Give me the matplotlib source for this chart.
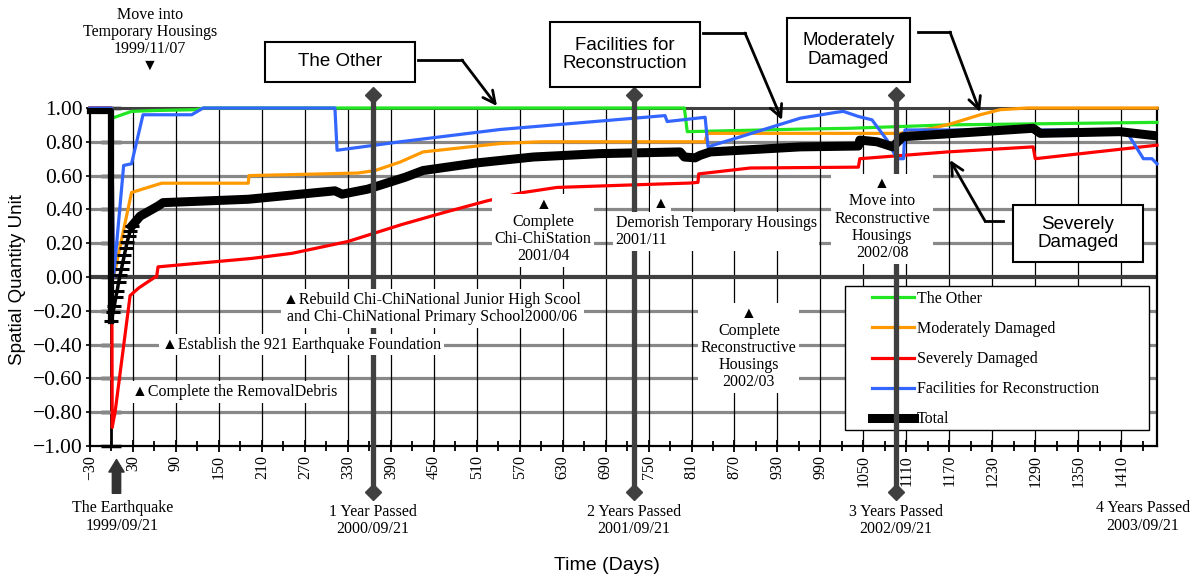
import matplotlib
matplotlib.use('Agg')
import matplotlib.pyplot as plt
from matplotlib.patches import Rectangle
from matplotlib.lines import Line2D

plt.rcParams['font.family'] = ['Liberation Serif', 'DejaVu Sans']
SANS = ['Liberation Sans', 'DejaVu Sans']

# ---- data (days since the earthquake, spatial quantity unit) ----
other_days = [-30, 0, 1, 28, 60, 117, 130, 800, 804, 962, 1031, 1167, 1460]
other_vals = [1.0, 1.0, 0.94, 0.98, 0.985, 0.99, 1.0, 1.0, 0.86, 0.875, 0.88, 0.90, 0.915]

moderate_days = [-30, 0, 3, 28, 70, 191, 192, 344, 368, 403, 435, 543, 600, 829, 832,
                 1101, 1147, 1175, 1213, 1241, 1279, 1460]
moderate_vals = [1.0, 1.0, 0.0, 0.50, 0.555, 0.555, 0.60, 0.615, 0.63, 0.68, 0.74, 0.79, 0.80, 0.80, 0.85,
                 0.85, 0.88, 0.91, 0.96, 0.99, 1.0, 1.0]

severe_days = [-30, 0, 1, 5, 26, 38, 61, 63, 65, 196, 252, 330, 405, 463, 524, 575, 622, 728,
               808, 819, 820, 892, 1043, 1045, 1167, 1287, 1290, 1460]
severe_vals = [1.0, 1.0, -0.89, -0.80, -0.11, -0.065, 0.0, 0.0, 0.06, 0.11, 0.14, 0.21, 0.31, 0.38,
               0.45, 0.50, 0.53, 0.545, 0.556, 0.56, 0.61, 0.645, 0.65, 0.70, 0.74, 0.77, 0.70, 0.78]

facility_days = [-30, 0, 3, 17, 28, 44, 112, 128, 312, 315, 403, 543, 773, 776, 829, 833, 962,
                 1013, 1022, 1043, 1062, 1083, 1097, 1106, 1108, 1416, 1441, 1453, 1460]
facility_vals = [1.0, 1.0, 0.0, 0.66, 0.67, 0.96, 0.96, 1.0, 1.0, 0.75, 0.80, 0.873, 0.955, 0.92,
                 0.945, 0.77, 0.94, 0.975, 0.98, 0.95, 0.93, 0.81, 0.70, 0.70, 0.87, 0.87, 0.70, 0.70, 0.67]

# total: drop on day 0, then the marked climb, then the slow recovery
total_drop_days = [-30, 0, 0]
total_drop_vals = [0.98, 0.98, -0.26]
total_climb_days = [0, 2, 4, 6, 8, 10, 12, 14, 16, 18, 20, 22, 24, 26, 28]
total_climb_vals = [-0.26, -0.21, -0.17, -0.12, -0.08, -0.03, 0.01, 0.05, 0.09, 0.13, 0.17,
                    0.21, 0.24, 0.27, 0.30]
total_days = [28, 40, 65, 72, 191, 312, 322, 358, 410, 435, 510, 589, 682, 794, 800, 815, 822,
              836, 962, 1043, 1045, 1069, 1091, 1105, 1287, 1297, 1408, 1460]
total_vals = [0.30, 0.36, 0.42, 0.44, 0.46, 0.51, 0.49, 0.52, 0.59, 0.63, 0.675, 0.71, 0.73, 0.74,
              0.71, 0.705, 0.72, 0.74, 0.77, 0.775, 0.81, 0.80, 0.77, 0.83, 0.88, 0.85, 0.86, 0.835]

year_days = [365, 730, 1095]
year_labels = ['1 Year Passed\n2000/09/21', '2 Years Passed\n2001/09/21', '3 Years Passed\n2002/09/21']

x_major = list(range(-30, 1411, 60))
x_minor = list(range(-30, 1461, 30))
y_ticks = [-1.0, -0.8, -0.6, -0.4, -0.2, 0.0, 0.2, 0.4, 0.6, 0.8, 1.0]

GREEN, ORANGE, RED, BLUE = '#22e622', '#ff9900', '#ff0000', '#3366ff'

W, H = 1199, 582
def fx(p):
    return p / W
def fy(p):
    return 1 - p / H

fig = plt.figure(figsize=(11.99, 5.82), dpi=100)
ax = fig.add_axes([fx(90), fy(446), fx(1157) - fx(90), fy(108) - fy(446)])
ax.set_xlim(-30, 1460)
ax.set_ylim(-1, 1)

# grid
for v in y_ticks[1:-1]:
    if v == 0:
        ax.axhline(v, color='#404040', lw=3, zorder=1)
    else:
        ax.axhline(v, color='#888888', lw=2.3, zorder=0.5)
for d in x_major[1:]:
    ax.axvline(d, color='black', lw=0.9, zorder=0.6)

# series
ax.plot(other_days, other_vals, color=GREEN, lw=2.3, zorder=2.7, clip_on=False, label='The Other')
ax.plot(moderate_days, moderate_vals, color=ORANGE, lw=2.3, zorder=2.7, clip_on=False,
        label='Moderately Damaged')
ax.plot(severe_days, severe_vals, color=RED, lw=2.3, zorder=2.7, clip_on=False, label='Severely Damaged')
ax.plot(facility_days, facility_vals, color=BLUE, lw=2.3, zorder=2.7, clip_on=False,
        label='Facilities for Reconstruction')
ax.plot(total_drop_days, total_drop_vals, color='black', lw=4.5, zorder=3, clip_on=False)
ax.plot(total_climb_days, total_climb_vals, color='black', lw=2.5, marker='_', ms=10, mew=2.2, zorder=3)
ax.plot(total_days, total_vals, color='black', lw=6.5, zorder=3, label='Total')

# y axis crossing at day 0
sec = ax.secondary_yaxis(30 / 1490)
sec.set_yticks(y_ticks)
sec.tick_params(direction='inout', length=14, width=2.5, labelleft=False, labelright=False)
sec.spines['left'].set_linewidth(2)
sec.spines['right'].set_visible(False)

# ticks
ax.set_xticks(x_major)
ax.set_xticks(x_minor, minor=True)
ax.set_xticklabels([str(d).replace('-', '\u2212') for d in x_major])
ax.set_yticks(y_ticks)
ax.set_yticklabels([f'{v:.2f}'.replace('-', '\u2212') for v in y_ticks])
ax.tick_params(axis='x', which='major', direction='inout', length=9, width=1.3,
               labelrotation=90, labelsize=11.5, pad=2)
ax.tick_params(axis='x', which='minor', direction='inout', length=7, width=1.3)
ax.tick_params(axis='y', direction='out', length=3, width=1.2, labelsize=15.5, pad=2)
for s in ['left', 'right', 'bottom']:
    ax.spines[s].set_linewidth(1.6)
ax.spines['top'].set_color('#404040')
ax.spines['top'].set_linewidth(2.2)

# year markers
for d, lab in zip(year_days, year_labels):
    ax.plot([d, d], [-1.27, 1.075], color='#404040', lw=3.8, marker='D', ms=8,
            clip_on=False, zorder=4)
    ax.text(d, -1.44, lab, ha='center', va='center', fontsize=11.5, linespacing=1.1, clip_on=False)
ax.text(1440, -1.42, '4 Years Passed\n2003/09/21', ha='center', va='center', fontsize=11.5,
        linespacing=1.1, clip_on=False)
ax.text(15, -1.42, 'The Earthquake\n1999/09/21', ha='center', va='center', fontsize=11.5,
        linespacing=1.1, clip_on=False)
ax.annotate('', xy=(7, -1.08), xytext=(7, -1.28), annotation_clip=False,
            arrowprops=dict(arrowstyle='simple,head_length=0.9,head_width=1.1,tail_width=0.6',
                            mutation_scale=10, color='#333333', shrinkA=0, shrinkB=0))

# event notes
box = dict(fc='white', ec='none', pad=2)
ax.text(54, 1.40, 'Move into\nTemporary Housings\n1999/11/07\n\u25bc', ha='center', va='center',
        fontsize=11.5, linespacing=1.1, clip_on=False)
ax.text(448, -0.185, '\u25b2Rebuild Chi-ChiNational Junior High Scool\nand Chi-ChiNational Primary School2000/06',
        ha='center', va='center', fontsize=11.5, linespacing=1.1, bbox=box, zorder=5)
ax.text(265, -0.40, '\u25b2Establish the 921 Earthquake Foundation', ha='center', va='center',
        fontsize=11.5, bbox=box, zorder=5)
ax.text(172, -0.68, '\u25b2Complete the RemovalDebris', ha='center', va='center',
        fontsize=11.5, bbox=box, zorder=5)
ax.text(603, 0.274, '\u25b2\nComplete\nChi-ChiStation\n2001/04', ha='center', va='center',
        fontsize=11.5, linespacing=1.1, bbox=box, zorder=5)
ax.text(767, 0.43, '\u25b2', ha='center', va='center', fontsize=11.5, bbox=box, zorder=5)
ax.text(704, 0.268, 'Demorish Temporary Housings\n2001/11', ha='left', va='center',
        fontsize=11.5, linespacing=1.1, bbox=box, zorder=5)
ax.text(1076, 0.345, '\u25b2\nMove into\nReconstructive\nHousings\n2002/08', ha='center', va='center',
        fontsize=11.5, linespacing=1.1, bbox=box, zorder=5)
ax.text(890, -0.42, '\u25b2\nComplete\nReconstructive\nHousings\n2002/03', ha='center', va='center',
        fontsize=11.5, linespacing=1.1, bbox=box, zorder=5)

# legend
ax.add_patch(Rectangle((fx(845), fy(430)), fx(1149) - fx(845), fy(286) - fy(430),
                       transform=fig.transFigure, fc='white', ec='black', lw=1, zorder=3.5))
leg = ax.legend(loc='upper left', bbox_to_anchor=(fx(872), fy(291)), bbox_transform=fig.transFigure,
                frameon=False, fontsize=11.5, handlelength=2.6, handletextpad=0.2,
                labelspacing=0.88, borderpad=0, borderaxespad=0)
leg.set_zorder(3.6)

# callout boxes
def callout(x0, y0, x1, y1, text):
    fig.add_artist(Rectangle((fx(x0), fy(y1)), fx(x1) - fx(x0), fy(y0) - fy(y1),
                             transform=fig.transFigure, fc='white', ec='black', lw=1.5))
    fig.text(fx((x0 + x1) / 2), fy((y0 + y1) / 2), text, ha='center', va='center',
             fontsize=13.5, family=SANS, linespacing=1.15)

def pointer(xa, xb, y, tx, ty):
    fig.add_artist(Line2D([fx(xa), fx(xb)], [fy(y), fy(y)], transform=fig.transFigure,
                          color='black', lw=2))
    ax.annotate('', xy=(fx(tx), fy(ty)), xycoords='figure fraction', xytext=(fx(xb), fy(y)),
                textcoords='figure fraction',
                arrowprops=dict(arrowstyle='->', lw=2, color='black', shrinkA=0, shrinkB=0,
                                mutation_scale=22))

callout(265, 42, 415, 82, 'The Other')
callout(550, 22, 700, 87, 'Facilities for\nReconstruction')
callout(787, 18, 910, 82, 'Moderately\nDamaged')
callout(1013, 205, 1143, 262, 'Severely\nDamaged')
pointer(418, 462, 60, 497, 106)
pointer(703, 745, 33, 782, 120)
pointer(918, 950, 32, 980, 112)
pointer(1003, 985, 221, 950, 160)

fig.text(fx(18), fy(280), 'Spatial Quantity Unit', rotation=90, ha='center', va='center',
         fontsize=13.5, family=SANS)
fig.text(fx(607), fy(565), 'Time (Days)', ha='center', va='center', fontsize=14, family=SANS)

fig.savefig('out.png', dpi=100)
